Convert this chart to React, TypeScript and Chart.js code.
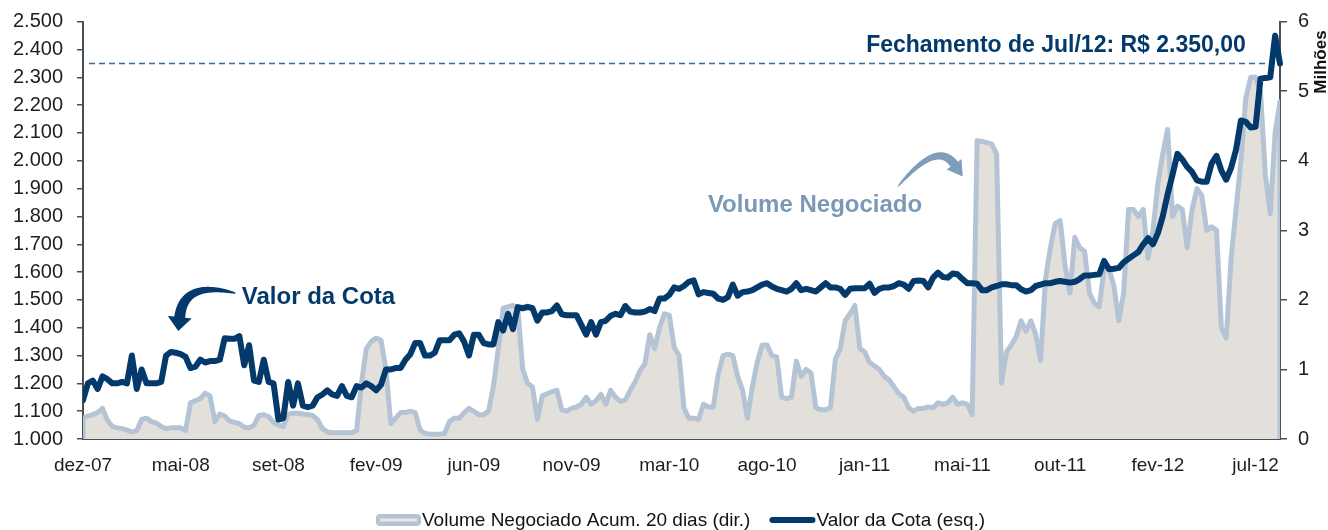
import React, { useEffect, useRef } from "react";
import { Chart, registerables } from "chart.js";

Chart.register(...registerables);

// ---------- DATA ----------
const xLabels = [
  "dez-07", "mai-08", "set-08", "fev-09", "jun-09", "nov-09", "mar-10",
  "ago-10", "jan-11", "mai-11", "out-11", "fev-12", "jul-12",
];
const pointsPerLabel = 20;

const leftTicks = [1000, 1100, 1200, 1300, 1400, 1500, 1600, 1700, 1800, 1900, 2000, 2100, 2200, 2300, 2400, 2500];
const rightTicks = [0, 1, 2, 3, 4, 5, 6];

const valorDaCota = [
  1140, 1200, 1210, 1180, 1225, 1215, 1200, 1200, 1205, 1200,
  1300, 1180, 1250, 1200, 1200, 1200, 1205, 1300, 1313, 1310,
  1305, 1295, 1255, 1260, 1285, 1275, 1280, 1280, 1285, 1362,
  1360, 1360, 1370, 1265, 1337, 1210, 1205, 1285, 1205, 1200,
  1070, 1075, 1205, 1120, 1200, 1120, 1115, 1120, 1150, 1160,
  1175, 1160, 1155, 1190, 1155, 1150, 1190, 1185, 1200, 1190,
  1175, 1195, 1250, 1250, 1255, 1255, 1285, 1305, 1345, 1345,
  1300, 1300, 1310, 1355, 1355, 1355, 1375, 1380, 1350, 1300,
  1375, 1375, 1345, 1340, 1340, 1420, 1390, 1450, 1395, 1474,
  1470, 1475, 1470, 1425, 1455, 1455, 1460, 1480, 1448, 1445,
  1445, 1445, 1410, 1375, 1420, 1375, 1420, 1425, 1443, 1450,
  1445, 1478, 1458, 1455, 1455, 1458, 1467, 1460, 1505, 1505,
  1518, 1545, 1540, 1550, 1565, 1570, 1520, 1528, 1525, 1522,
  1505, 1500, 1510, 1555, 1515, 1528, 1530, 1535, 1545, 1555,
  1560, 1548, 1540, 1535, 1530, 1540, 1560, 1535, 1540, 1535,
  1530, 1545, 1560, 1545, 1545, 1540, 1518, 1540, 1542, 1542,
  1542, 1558, 1525, 1540, 1545, 1545, 1550, 1560, 1555, 1540,
  1568, 1570, 1568, 1545, 1580, 1598, 1582, 1580, 1595, 1592,
  1575, 1560, 1560, 1558, 1535, 1535, 1545, 1550, 1556, 1556,
  1553, 1553, 1538, 1530, 1535, 1550, 1555, 1560, 1560, 1565,
  1568, 1565, 1562, 1565, 1575, 1588, 1588, 1590, 1592, 1640,
  1610, 1612, 1615, 1635, 1648, 1660, 1672, 1700, 1722, 1700,
  1740, 1800, 1880, 1950, 2025, 2005, 1978, 1960, 1930, 1925,
  1925, 1990, 2018, 1965, 1932, 1975, 2040, 2145, 2140, 2120,
  2122, 2295, 2298, 2300, 2450, 2350,
];

// Milhões
const volumeNegociado = [
  0.30, 0.33, 0.35, 0.38, 0.44, 0.27, 0.18, 0.16, 0.15, 0.13,
  0.10, 0.12, 0.28, 0.30, 0.25, 0.23, 0.18, 0.15, 0.16, 0.16,
  0.16, 0.12, 0.52, 0.55, 0.58, 0.66, 0.62, 0.25, 0.36, 0.33,
  0.26, 0.24, 0.22, 0.17, 0.16, 0.20, 0.34, 0.35, 0.32, 0.24,
  0.20, 0.18, 0.36, 0.37, 0.37, 0.36, 0.35, 0.34, 0.28, 0.15,
  0.10, 0.09, 0.09, 0.09, 0.09, 0.09, 0.12, 0.80, 1.30, 1.40,
  1.45, 1.42, 1.00, 0.22, 0.30, 0.38, 0.38, 0.40, 0.38, 0.13,
  0.08, 0.07, 0.07, 0.07, 0.08, 0.25, 0.30, 0.30, 0.38, 0.44,
  0.40, 0.35, 0.35, 0.40, 0.75, 1.30, 1.88, 1.90, 1.92, 1.88,
  1.00, 0.80, 0.75, 0.28, 0.62, 0.65, 0.68, 0.70, 0.42, 0.40,
  0.44, 0.46, 0.50, 0.60, 0.50, 0.55, 0.64, 0.50, 0.70, 0.60,
  0.54, 0.56, 0.70, 0.82, 0.98, 1.08, 1.50, 1.30, 1.60, 1.80,
  1.78, 1.32, 1.20, 0.45, 0.30, 0.30, 0.28, 0.50, 0.46, 0.46,
  0.92, 1.20, 1.22, 1.20, 0.90, 0.70, 0.30, 0.75, 1.10, 1.35,
  1.35, 1.20, 1.18, 0.60, 0.58, 0.60, 1.12, 0.90, 1.00, 0.95,
  0.45, 0.42, 0.42, 0.45, 1.15, 1.30, 1.70, 1.80, 1.92, 1.30,
  1.25, 1.10, 1.05, 1.00, 0.90, 0.85, 0.75, 0.65, 0.60, 0.45,
  0.40, 0.44, 0.44, 0.46, 0.45, 0.52, 0.50, 0.52, 0.60, 0.50,
  0.52, 0.50, 0.35, 4.29, 4.28, 4.26, 4.24, 4.10, 0.80, 1.25,
  1.35, 1.47, 1.70, 1.55, 1.70, 1.50, 1.13, 2.30, 2.75, 3.10,
  3.14, 2.50, 2.10, 2.90, 2.75, 2.70, 2.10, 1.95, 1.90, 2.45,
  2.45, 2.20, 1.70, 2.10, 3.30, 3.30, 3.20, 3.30, 2.60, 3.00,
  3.67, 4.10, 4.45, 3.20, 3.35, 3.30, 2.75, 3.30, 3.60, 3.50,
  3.00, 3.05, 3.00, 1.60, 1.45, 2.60, 3.30, 4.00, 4.90, 5.20,
  5.20, 5.00, 3.80, 3.24, 4.40, 4.85,
];

const fechamentoValor = 2350;

// ---------- STYLE / ANNOTATION ANCHORS (data units) ----------
const FONT = '"Liberation Sans", Arial, Helvetica, sans-serif';
const NAVY = "#033a6b";
const VOL_LINE = "#b4c4d4";
const VOL_FILL = "#e3e0dc";
const VOL_TEXT = "#7b99b6";
const AXIS = "#4a4f57";

const annot = {
  fechamento: { x: 238, y: 2390, axis: "y" },
  valorText: { x: 32.5, y: 1484, axis: "y" },
  valorArrow: { axis: "y", tail: [31.2, 1524], ctrl: [20.6, 1572], end: [19.8, 1438], w0: 1, w1: 11, hl: 14, hw: 12 },
  volumeText: { x: 127.9, y: 3.257, axis: "y1" },
  volumeArrow: { axis: "y1", tail: [166.8, 3.63], ctrl: [174.8, 4.3], end: [178.3, 3.95], w0: 1, w1: 9, hl: 15, hw: 9 },
};

function fmtThousands(v: number) {
  const th = Math.floor(v / 1000);
  const rest = String(Math.round(v % 1000)).padStart(3, "0");
  return th > 0 ? `${th}.${rest}` : String(v);
}

function drawArrow(ctx: CanvasRenderingContext2D, T: any, C: any, E: any, w0: number, w1: number, hl: number, hw: number, color: string) {
  const n = 40;
  const left: number[][] = [];
  const right: number[][] = [];
  for (let k = 0; k <= n; k++) {
    const t = k / n, u = 1 - t;
    const bx = u * u * T.x + 2 * u * t * C.x + t * t * E.x;
    const by = u * u * T.y + 2 * u * t * C.y + t * t * E.y;
    let dx = 2 * u * (C.x - T.x) + 2 * t * (E.x - C.x);
    let dy = 2 * u * (C.y - T.y) + 2 * t * (E.y - C.y);
    const len = Math.hypot(dx, dy) || 1;
    dx /= len; dy /= len;
    const w = (w0 + (w1 - w0) * Math.pow(t, 0.6)) / 2;
    left.push([bx - dy * w, by + dx * w]);
    right.push([bx + dy * w, by - dx * w]);
  }
  let ex = E.x - C.x, ey = E.y - C.y;
  const el = Math.hypot(ex, ey) || 1;
  ex /= el; ey /= el;
  ctx.beginPath();
  ctx.moveTo(left[0][0], left[0][1]);
  for (const p of left) ctx.lineTo(p[0], p[1]);
  ctx.lineTo(E.x - ey * hw, E.y + ex * hw);
  ctx.lineTo(E.x + ex * hl, E.y + ey * hl);
  ctx.lineTo(E.x + ey * hw, E.y - ex * hw);
  for (let k = n; k >= 0; k--) ctx.lineTo(right[k][0], right[k][1]);
  ctx.closePath();
  ctx.fillStyle = color;
  ctx.fill();
}

const decorPlugin = {
  id: "decor",
  beforeDatasetsDraw(chart: any) {
    const { ctx, chartArea, scales } = chart;
    const y = scales.y.getPixelForValue(fechamentoValor);
    ctx.save();
    ctx.strokeStyle = "#3c6a95";
    ctx.lineWidth = 1.5;
    ctx.setLineDash([6, 4]);
    ctx.beginPath();
    ctx.moveTo(chartArea.left + 6, y);
    ctx.lineTo(chartArea.right, y);
    ctx.stroke();
    ctx.restore();
  },
  afterDraw(chart: any) {
    const { ctx, scales } = chart;
    const px = (v: number) => scales.x.getPixelForValue(v);
    const py = (v: number, axis: string) => scales[axis].getPixelForValue(v);
    const pt = (a: number[], axis: string) => ({ x: px(a[0]), y: py(a[1], axis) });
    ctx.save();
    // Fechamento text
    ctx.font = `bold 23px ${FONT}`;
    ctx.fillStyle = NAVY;
    ctx.textAlign = "right";
    ctx.textBaseline = "alphabetic";
    ctx.fillText("Fechamento de Jul/12: R$ 2.350,00", px(annot.fechamento.x), py(annot.fechamento.y, "y"));
    // Valor da Cota
    ctx.font = `bold 24px ${FONT}`;
    ctx.textAlign = "left";
    ctx.fillStyle = NAVY;
    ctx.fillText("Valor da Cota", px(annot.valorText.x), py(annot.valorText.y, "y"));
    const va = annot.valorArrow;
    drawArrow(ctx, pt(va.tail, va.axis), pt(va.ctrl, va.axis), pt(va.end, va.axis), va.w0, va.w1, va.hl, va.hw, NAVY);
    // Volume Negociado
    ctx.fillStyle = VOL_TEXT;
    ctx.fillText("Volume Negociado", px(annot.volumeText.x), py(annot.volumeText.y, "y1"));
    const vb = annot.volumeArrow;
    drawArrow(ctx, pt(vb.tail, vb.axis), pt(vb.ctrl, vb.axis), pt(vb.end, vb.axis), vb.w0, vb.w1, vb.hl, vb.hw, "#7f9dba");

    // Milhões
    ctx.save();
    ctx.translate(1321, 62);
    ctx.rotate(-Math.PI / 2);
    ctx.font = `bold 17px ${FONT}`;
    ctx.fillStyle = "#111";
    ctx.textAlign = "center";
    ctx.textBaseline = "middle";
    ctx.fillText("Milhões", 0, 0);
    ctx.restore();

    // Legend
    const ly = 520;
    ctx.font = `19px ${FONT}`;
    ctx.textBaseline = "middle";
    ctx.textAlign = "left";
    let x = 376;
    ctx.fillStyle = VOL_LINE;
    ctx.beginPath();
    (ctx as any).roundRect(x, ly - 6, 45, 12, 4);
    ctx.fill();
    ctx.fillStyle = "#e9e7e3";
    ctx.fillRect(x + 4, ly - 1.5, 37, 3);
    x += 46;
    const t1 = "Volume Negociado Acum. 20 dias (dir.)";
    ctx.fillStyle = "#111";
    ctx.fillText(t1, x, ly + 1);
    x += ctx.measureText(t1).width + 19;
    ctx.fillStyle = NAVY;
    ctx.beginPath();
    (ctx as any).roundRect(x, ly - 3, 46, 6, 3);
    ctx.fill();
    x += 47;
    ctx.fillStyle = "#111";
    ctx.fillText("Valor da Cota (esq.)", x, ly + 1);
    ctx.restore();
  },
};

export default function App() {
  const canvasRef = useRef<HTMLCanvasElement | null>(null);

  useEffect(() => {
    document.body.style.margin = "0";
    const canvas = canvasRef.current;
    if (!canvas) return;
    const lastIdx = volumeNegociado.length - 1;
    const cotaData = valorDaCota.map((v, i) => ({ x: i, y: v }));
    const volData = [
      { x: 0, y: 0 },
      ...volumeNegociado.map((v, i) => ({ x: i, y: v })),
      { x: lastIdx, y: 0 },
    ];
    const xTickValues = xLabels.map((_, k) => k * pointsPerLabel);

    const chart = new Chart(canvas, {
      type: "line",
      data: {
        datasets: [
          {
            label: "Valor da Cota (esq.)",
            data: cotaData,
            yAxisID: "y",
            borderColor: NAVY,
            borderWidth: 6,
            pointRadius: 0,
            tension: 0,
            fill: false,
            borderJoinStyle: "round",
            borderCapStyle: "round",
            order: 0,
            clip: { left: 0, top: 10, right: 3, bottom: 0 },
          } as any,
          {
            label: "Volume Negociado Acum. 20 dias (dir.)",
            data: volData,
            yAxisID: "y1",
            borderColor: VOL_LINE,
            backgroundColor: VOL_FILL,
            borderWidth: 5,
            pointRadius: 0,
            tension: 0,
            fill: "origin",
            borderJoinStyle: "round",
            order: 1,
            clip: { left: 0, top: 10, right: 0, bottom: 0 },
          } as any,
        ],
      },
      options: {
        animation: false,
        responsive: true,
        maintainAspectRatio: false,
        layout: { padding: { top: 21.7, left: 0, right: 0, bottom: 0 } },
        plugins: { legend: { display: false }, tooltip: { enabled: false } },
        scales: {
          x: {
            type: "linear",
            min: 0,
            max: lastIdx,
            z: 1,
            afterBuildTicks: (s: any) => {
              s.ticks = xTickValues.map((v) => ({ value: v }));
            },
            afterFit: (s: any) => {
              s.height = 91;
            },
            grid: { display: false, drawTicks: false },
            border: { display: true, color: AXIS, width: 2 },
            ticks: {
              autoSkip: false,
              maxRotation: 0,
              minRotation: 0,
              padding: 15,
              color: "#1e1e1e",
              font: { family: FONT, size: 19 },
              callback: (_v: any, idx: number) => xLabels[idx] ?? "",
            },
          },
          y: {
            type: "linear",
            position: "left",
            min: leftTicks[0],
            max: leftTicks[leftTicks.length - 1],
            z: 1,
            afterBuildTicks: (s: any) => {
              s.ticks = leftTicks.map((v) => ({ value: v }));
            },
            afterFit: (s: any) => {
              s.width = 83;
              s.paddingTop = 0;
              s.paddingBottom = 0;
            },
            grid: { drawOnChartArea: false, drawTicks: true, tickLength: 6, color: AXIS, lineWidth: 1.5 },
            border: { display: true, color: AXIS, width: 2 },
            ticks: {
              padding: 14,
              color: "#1e1e1e",
              font: { family: FONT, size: 20 },
              callback: (v: any) => fmtThousands(Number(v)),
            },
          },
          y1: {
            type: "linear",
            position: "right",
            min: rightTicks[0],
            max: rightTicks[rightTicks.length - 1],
            z: 1,
            afterBuildTicks: (s: any) => {
              s.ticks = rightTicks.map((v) => ({ value: v }));
            },
            afterFit: (s: any) => {
              s.width = 48;
              s.paddingTop = 0;
              s.paddingBottom = 0;
            },
            grid: { drawOnChartArea: false, drawTicks: true, tickLength: 7, color: AXIS, lineWidth: 1.5 },
            border: { display: true, color: AXIS, width: 2 },
            ticks: {
              padding: 11,
              color: "#1e1e1e",
              font: { family: FONT, size: 20 },
              callback: (v: any) => String(v),
            },
          },
        },
      } as any,
      plugins: [decorPlugin],
    });
    return () => chart.destroy();
  }, []);

  return (
    <div style={{ position: "relative", width: 1328, height: 530 }}>
      <canvas ref={canvasRef} />
    </div>
  );
}
